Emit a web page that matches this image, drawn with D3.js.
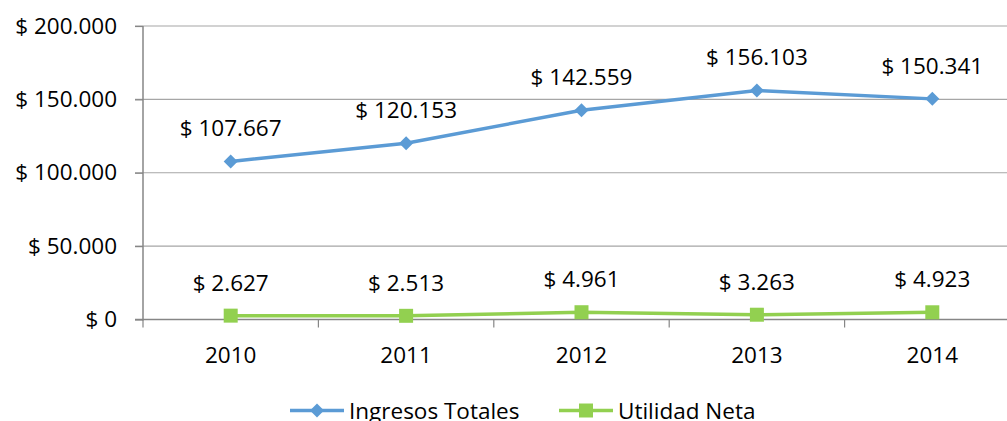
<!DOCTYPE html>
<html lang="es">
<head>
<meta charset="utf-8">
<style>
  body { margin: 0; background: white; overflow: hidden; }
  svg { display: block; font-family: "Open Sans", "Noto Sans", sans-serif; }
</style>
<script src="https://d3js.org/d3.v7.min.js"></script>
</head>
<body>
<div class="chart"></div>
<script>
const years = ["2010", "2011", "2012", "2013", "2014"];
const ingresos = [107667, 120153, 142559, 156103, 150341];
const utilidad = [2627, 2513, 4961, 3263, 4923];
const yTicks = [0, 50000, 100000, 150000, 200000];

const W = 1007, H = 421;
const plotLeft = 143, plotRight = 1020, plotTop = 26, plotBottom = 319.5;
const fs = 22.5;

const fmt = v => "$ " + d3.format(",")(v).replace(/,/g, ".");

const svg = d3.select(".chart").append("svg")
  .attr("width", W).attr("height", H);

const x = d3.scaleBand().domain(years).range([plotLeft, plotRight]);
const y = d3.scaleLinear().domain([0, 200000]).range([plotBottom, plotTop]);

// gridlines
svg.append("g")
  .selectAll("line")
  .data(yTicks.filter(d => d > 0))
  .join("line")
  .attr("x1", 135).attr("x2", plotRight)
  .attr("y1", d => y(d)).attr("y2", d => y(d))
  .attr("stroke", "#a6a6a6").attr("stroke-width", 1.2);

// y axis
const yAxis = svg.append("g")
  .attr("transform", `translate(${plotLeft},0)`)
  .call(d3.axisLeft(y).tickValues(yTicks).tickFormat(fmt).tickSize(8).tickPadding(18));
yAxis.select(".domain").attr("stroke", "#868686").attr("stroke-width", 1.5)
  .attr("d", `M0,${plotTop}V${plotBottom + 1}`);
yAxis.selectAll(".tick line").attr("stroke", "#868686").attr("stroke-width", 1.2);
yAxis.selectAll(".tick text").attr("font-size", fs).attr("fill", "#000")
  .attr("font-family", "Open Sans, sans-serif");

// x axis
const xAxis = svg.append("g")
  .attr("transform", `translate(0,${plotBottom})`)
  .call(d3.axisBottom(x).tickSize(0).tickPadding(0));
xAxis.select(".domain").attr("stroke", "#868686").attr("stroke-width", 1.5)
  .attr("d", `M${plotLeft - 8},0H${plotRight}`);
xAxis.selectAll(".tick text").attr("font-size", fs).attr("fill", "#000")
  .attr("font-family", "Open Sans, sans-serif")
  .attr("dy", null).attr("y", 43);
svg.append("g")
  .selectAll("line")
  .data(years)
  .join("line")
  .attr("x1", d => x(d)).attr("x2", d => x(d))
  .attr("y1", plotBottom).attr("y2", plotBottom + 8)
  .attr("stroke", "#868686").attr("stroke-width", 1.2);

const cx = d => x(d) + x.bandwidth() / 2;
const line = d3.line().x(d => cx(d.year)).y(d => y(d.v));

const series = [
  { name: "Ingresos Totales", values: ingresos, color: "#5b9bd5", size: 98, rot: 45 },
  { name: "Utilidad Neta", values: utilidad, color: "#92d050", size: 196, rot: 0 }
];

series.forEach(s => {
  const pts = years.map((yr, i) => ({ year: yr, v: s.values[i] }));
  svg.append("path").datum(pts)
    .attr("d", line).attr("fill", "none")
    .attr("stroke", s.color).attr("stroke-width", 3.5);
  svg.append("g").selectAll("path")
    .data(pts).join("path")
    .attr("d", d3.symbol().type(d3.symbolSquare).size(s.size))
    .attr("transform", d => `translate(${cx(d.year)},${y(d.v)}) rotate(${s.rot})`)
    .attr("fill", s.color);
  svg.append("g").selectAll("text")
    .data(pts).join("text")
    .attr("x", d => cx(d.year)).attr("y", d => y(d.v) - 25)
    .attr("text-anchor", "middle")
    .attr("font-size", fs)
    .text(d => fmt(d.v));
});

// legend
const legend = svg.append("g").attr("transform", "translate(0,410.5)");
const lx = [290, 559];
series.forEach((s, i) => {
  const g = legend.append("g").attr("transform", `translate(${lx[i]},0)`);
  g.append("line").attr("x1", 0).attr("x2", 54)
    .attr("stroke", s.color).attr("stroke-width", 3.5);
  g.append("path").attr("d", d3.symbol().type(d3.symbolSquare).size(s.size))
    .attr("transform", `translate(27,0) rotate(${s.rot})`).attr("fill", s.color);
  g.append("text").attr("x", 59).attr("y", 8)
    .attr("font-size", fs).text(s.name);
});
</script>
</body>
</html>
